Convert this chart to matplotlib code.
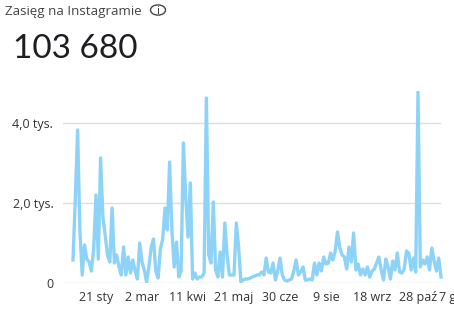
import numpy as np
import pandas as pd
import matplotlib
matplotlib.use('Agg')
import matplotlib.pyplot as plt
from matplotlib.patches import Circle
from matplotlib.transforms import ScaledTranslation

plt.rcParams['font.family'] = ['Open Sans', 'DejaVu Sans']

title = 'Zasięg na Instagramie'
total = '103 680'

# dzienny zasięg, co 2 dni od 1 stycznia
reach = [575, 2100, 3825, 1300, 200, 950, 600, 525, 300, 850,
         2200, 600, 3125, 1650, 1200, 700, 525, 1875, 500, 700,
         400, 200, 900, 200, 650, 250, 575, 300, 100, 1000,
         525, 325, 25, 400, 900, 1100, 300, 125, 850, 1100,
         1875, 1325, 3025, 1325, 400, 1025, 150, 300, 3500, 2150,
         1150, 2500, 100, 250, 100, 150, 150, 250, 4625, 700,
         500, 2025, 325, 150, 775, 150, 1500, 700, 200, 200,
         200, 1500, 900, 25, 75, 100, 100, 125, 150, 175,
         200, 200, 275, 200, 625, 275, 250, 500, 75, 300,
         625, 200, 75, 50, 75, 100, 300, 575, 200, 275,
         400, 75, 75, 100, 75, 500, 200, 500, 300, 650,
         475, 500, 750, 575, 800, 1275, 875, 700, 650, 350,
         900, 525, 1250, 325, 475, 200, 350, 200, 400, 150,
         300, 350, 500, 650, 325, 75, 600, 400, 100, 550,
         325, 750, 275, 250, 350, 800, 750, 325, 625, 275,
         4775, 400, 575, 475, 650, 325, 875, 550, 300, 625,
         150]
dates = pd.date_range('2023-01-01', periods=len(reach), freq='2D')

tick_dates = pd.date_range('2023-01-21', periods=9, freq='40D')
tick_labels = ['21 sty', '2 mar', '11 kwi', '21 maj', '30 cze',
               '9 sie', '18 wrz', '28 paź', '7 gru']
y_ticks = [0, 2000, 4000]
y_labels = ['0', '2,0 tys.', '4,0 tys.']

W, H = 454, 309
fig = plt.figure(figsize=(W / 100, H / 100), dpi=100)
fig.patch.set_facecolor('white')

left_px, right_px, axis_end_px = 63, 480, 440
ax = fig.add_axes([left_px / W, 26 / H, (right_px - left_px) / W, 192 / H])
ax.set_facecolor('none')

x0 = pd.Timestamp('2023-01-01')
px_per_day = 1.15
ax.set_xlim(x0 - pd.Timedelta(days=(73 - left_px) / px_per_day),
            x0 + pd.Timedelta(days=(right_px - 73) / px_per_day))
ax.set_ylim(0, 4800)

grid_end = (axis_end_px - left_px) / (right_px - left_px)
for yt in y_ticks:
    ax.axhline(yt, xmin=0, xmax=grid_end, color='#dedede', lw=1, zorder=1)

ax.plot(dates, reach, color='#8dd3f7', lw=2.4, solid_joinstyle='round', zorder=3)

for s in ax.spines.values():
    s.set_visible(False)
ax.set_yticks(y_ticks)
ax.set_yticklabels(y_labels)
ax.set_xticks(tick_dates)
ax.set_xticklabels(tick_labels)
ax.tick_params(length=0, labelsize=9, colors='#333333')
ax.tick_params(axis='y', pad=7)
ax.tick_params(axis='x', pad=6)

# ostatnia etykieta bliżej, jak w oryginale (i tak ucięta przy krawędzi)
last = ax.get_xticklabels()[-1]
last.set_transform(last.get_transform() + ScaledTranslation(-10 / 100, 0, fig.dpi_scale_trans))

fig.text(5 / W, 1 - 11 / H, title, fontsize=9.6, color='#444444', va='center', ha='left')
fig.add_artist(Circle((158 / W, 1 - 10 / H), 7.5 / W, transform=fig.transFigure,
                      fill=False, ec='#444444', lw=1.0))
fig.text(158 / W, 1 - 10.5 / H, 'i', fontsize=7.5, color='#444444', ha='center', va='center',
         family=['DejaVu Sans'])
fig.text(13 / W, 1 - 49 / H, total, fontsize=24, color='#1c1e21', va='center', ha='left',
         family=['Lato', 'DejaVu Sans'])

fig.savefig('out.png', dpi=100, facecolor='white')
